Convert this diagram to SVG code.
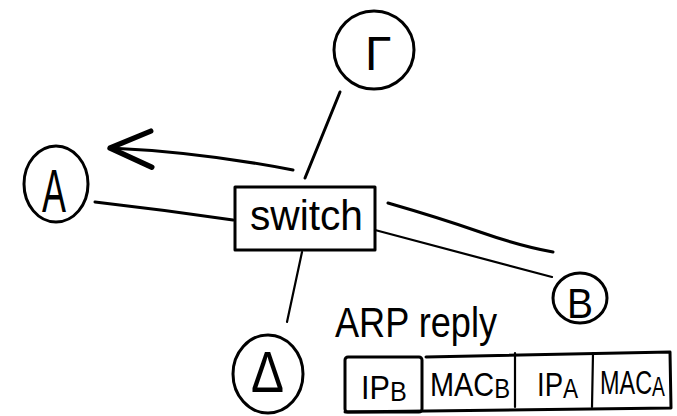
<svg xmlns="http://www.w3.org/2000/svg" width="677" height="416" viewBox="0 0 677 416">
  <style>
    .ink { fill: none; stroke: #000; stroke-width: 3; stroke-linecap: round; stroke-linejoin: round; }
    .thin { fill: none; stroke: #000; stroke-width: 2.2; stroke-linecap: round; stroke-linejoin: round; }
    .lbl { font-family: "Liberation Sans", "DejaVu Sans", sans-serif; fill: #000; }
    .pkt { font-family: "Liberation Sans", "DejaVu Sans", sans-serif; fill: #000; font-size: 34px; }
    .sub { font-size: 28px; }
  </style>
  <defs>
    <marker id="arrow" markerUnits="userSpaceOnUse" markerWidth="60" markerHeight="60" refX="0" refY="0" viewBox="-40 -20 45 40" orient="auto" overflow="visible">
      <path d="M-32,-13 L0,0 L-30,14" fill="none" stroke="#000" stroke-width="4" stroke-linecap="round" stroke-linejoin="round"/>
    </marker>
  </defs>
  <rect width="677" height="416" fill="#fff"/>

  <g id="connectors">
    <path class="ink" d="M340,92 L305,178"/>
    <path class="ink" d="M95,202 Q165,210 233,220"/>
    <path class="ink" d="M293,170 Q200,152 110,148" marker-end="url(#arrow)"/>
    <path class="ink" d="M388,203 Q440,218 480,232 Q520,246 553,252"/>
    <path class="thin" d="M375,230 Q470,255 552,277"/>
    <path class="thin" d="M302,252 L287,322"/>
  </g>

  <g id="node-gamma">
    <ellipse class="ink" cx="374" cy="50" rx="40" ry="39"/>
    <text class="lbl" x="365" y="70" font-size="48">Γ</text>
  </g>

  <g id="node-a">
    <ellipse class="ink" cx="56" cy="184" rx="32" ry="38"/>
    <text class="lbl" x="42" y="212" font-size="62" textLength="24" lengthAdjust="spacingAndGlyphs">A</text>
  </g>

  <g id="node-switch">
    <rect class="ink" x="235" y="187" width="140" height="63" stroke-width="3.5"/>
    <text class="lbl" x="250" y="230" font-size="42" textLength="113" lengthAdjust="spacingAndGlyphs">switch</text>
  </g>

  <g id="node-b">
    <ellipse class="ink" cx="580" cy="298" rx="27" ry="25"/>
    <text class="lbl" x="567" y="318" font-size="42" textLength="26" lengthAdjust="spacingAndGlyphs">B</text>
  </g>

  <g id="node-delta">
    <ellipse class="ink" cx="268" cy="374" rx="35" ry="39"/>
    <text class="lbl" x="251" y="392" font-size="58" textLength="33" lengthAdjust="spacingAndGlyphs">Δ</text>
  </g>

  <g id="arp-reply">
    <text class="lbl" x="335" y="337" font-size="42" textLength="162" lengthAdjust="spacingAndGlyphs">ARP reply</text>
    <rect class="ink" x="345" y="357" width="77" height="55" rx="3"/>
    <path class="ink" d="M426,357 L670,352 L671,408 L345,412"/>
    <path class="thin" d="M515,353 L515,407"/>
    <path class="thin" d="M593,353 L592,407"/>
    <text class="pkt" transform="translate(361,399) scale(0.9,1)">IP<tspan class="sub" dy="2">B</tspan></text>
    <text class="pkt" transform="translate(430,396) scale(0.85,1)">MAC<tspan class="sub" dy="2">B</tspan></text>
    <text class="pkt" transform="translate(537,396) scale(0.81,1)">IP<tspan class="sub" dy="2">A</tspan></text>
    <text class="pkt" transform="translate(600,394) scale(0.69,1)">MAC<tspan class="sub" dy="2">A</tspan></text>
  </g>
</svg>
